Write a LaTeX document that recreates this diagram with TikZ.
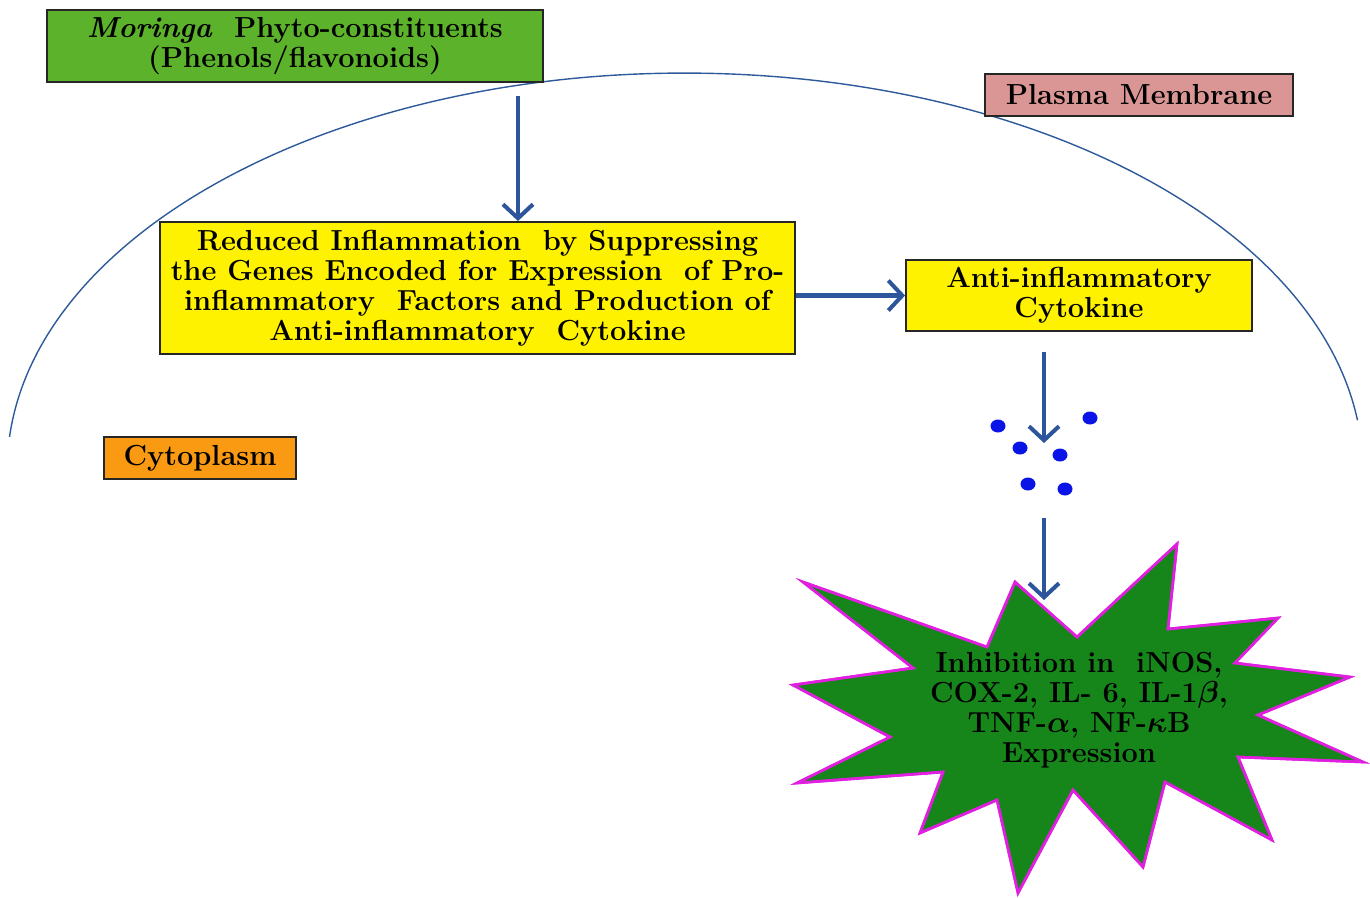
\documentclass[tikz,border=0pt]{standalone}
\usepackage[dvipsnames]{xcolor}
\usepackage{tikz}
\usepackage{amsmath}
\usepackage{amssymb}
\usetikzlibrary{arrows.meta}
\definecolor{leafgreen}{HTML}{5DB22B}
\definecolor{membpink}{HTML}{D99694}
\definecolor{plasmorange}{HTML}{F99A12}
\definecolor{flowblue}{HTML}{2D559B}
\definecolor{membblue}{HTML}{2E5A9C}
\definecolor{dotblue}{HTML}{0A14E6}
\definecolor{stargreen}{HTML}{16861A}
\definecolor{starmag}{HTML}{E01FE0}
\tikzset{
  boxnode/.style = {align=center, inner sep=0pt, text centered,
    draw=black!85, line width=1.1pt,
    font=\fontsize{16.5}{17}\selectfont\bfseries},
  box_g/.style = {boxnode, fill=leafgreen,
    minimum width=9.92cm, minimum height=1.44cm},% phyto-constituents
  box_p/.style = {boxnode, fill=membpink,
    minimum width=6.16cm, minimum height=0.84cm},% membrane label
  box_o/.style = {boxnode, fill=plasmorange,
    minimum width=3.84cm, minimum height=0.84cm},% cytoplasm label
  box_y/.style = {boxnode, fill=yellow},% yellow boxes
  flow/.style = {draw=flowblue, line width=2.3pt,
    -{Straight Barb[length=2.8mm,width=6mm]}},
  membrane/.style = {draw=membblue, line width=0.8pt},
  burst/.style = {fill=stargreen, draw=starmag, line width=1.5pt, line join=miter},
  bursttext/.style = {align=center, inner sep=0pt,
    font=\fontsize{16.5}{17}\selectfont\bfseries\boldmath}
}

\begin{document}
\begin{tikzpicture}[x=0.02cm, y=0.02cm]
	\useasboundingbox (0,0) rectangle (1370,-897);
	% cell membrane
	\draw [membrane] (685,-470) ++(175.2:13.56cm and 7.94cm)
	  arc [start angle=175.2, end angle=7.2, x radius=13.56cm, y radius=7.94cm];
	% labels and boxes
	\node [box_g] (moringa) at (295,-46) {\textit{Moringa}~ Phyto-constituents\\(Phenols/flavonoids)};
	\node [box_p] (membrane) at (1139,-95) {Plasma Membrane};
	\node [box_o] (cytoplasm) at (200,-458) {Cytoplasm};
	\node [box_y, minimum width=12.7cm, minimum height=2.64cm] (reduced) at (477.5,-288)
	  {Reduced Inflammation~ by Suppressing\\
	   the Genes Encoded for Expression~ of Pro-\\
	   inflammatory~ Factors and Production of\\
	   Anti-inflammatory~ Cytokine};
	\node [box_y, minimum width=6.92cm, minimum height=1.42cm] (cytokine) at (1079,-295.5)
	  {Anti-inflammatory\\Cytokine};
	% inhibition burst
	\fill [burst] (803,-582) -- (987,-647) -- (1015,-582) -- (1077,-637) -- (1177,-544)
	  -- (1168,-629) -- (1278,-618) -- (1235,-663) -- (1350,-677) -- (1258,-715)
	  -- (1363,-762) -- (1238,-757) -- (1272,-840) -- (1165,-782) -- (1143,-867)
	  -- (1073,-790) -- (1018,-893) -- (997,-800) -- (920,-833) -- (943,-772)
	  -- (797,-783) -- (890,-737) -- (793,-685) -- (913,-668) -- cycle;
	\draw [burst, fill=none] (803,-582) -- (987,-647) -- (1015,-582) -- (1077,-637) -- (1177,-544)
	  -- (1168,-629) -- (1278,-618) -- (1235,-663) -- (1350,-677) -- (1258,-715)
	  -- (1363,-762) -- (1238,-757) -- (1272,-840) -- (1165,-782) -- (1143,-867)
	  -- (1073,-790) -- (1018,-893) -- (997,-800) -- (920,-833) -- (943,-772)
	  -- (797,-783) -- (890,-737) -- (793,-685) -- (913,-668) -- cycle;
	\node [bursttext] (inhibit) at (1079,-710)
	  {Inhibition in~ iNOS,\\COX-2, IL- 6, IL-1$\beta$,\\TNF-$\alpha$, NF-$\kappa$B\\Expression};
	% arrow ends
	\coordinate (entry) at (518,-96);
	\coordinate (release) at (1044,-352);
	\coordinate (secreted) at (1044,-443);
	\coordinate (signal) at (1044,-518);
	\coordinate (target) at (1044,-600);
	\draw [flow] (entry) -- (entry |- reduced.north);
	\draw [flow] (reduced.east |- cytokine.west) -- (cytokine.west);
	\draw [flow] (release) -- (secreted);
	\draw [flow] (signal) -- (target);
	% cytokine molecules
	\foreach \x/\y in {998/426, 1090/418, 1020/448, 1060/455, 1028/484, 1065/489}
	  \fill [dotblue] (\x,-\y) ellipse [x radius=0.15cm, y radius=0.13cm];
\end{tikzpicture}
\end{document}
